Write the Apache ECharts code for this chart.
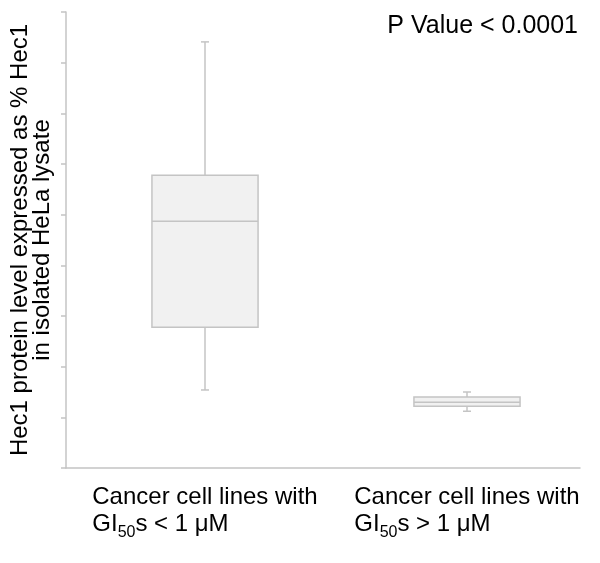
<!DOCTYPE html>
<html>
<head>
<meta charset="utf-8">
<script src="https://cdn.jsdelivr.net/npm/echarts@6/dist/echarts.min.js"></script>
<style>html,body{margin:0;padding:0;background:#fff}#c{width:600px;height:563px}</style>
</head>
<body>
<div id="c"></div>
<script>
const categories = ['Cancer cell lines with GI50s < 1 μM', 'Cancer cell lines with GI50s > 1 μM'];
const labelSign = ['<', '>'];
const whiskerLow = [15.4, 11.2];
const q1 = [27.8, 12.2];
const median = [48.7, 13.0];
const q3 = [57.8, 14.0];
const whiskerHigh = [84.1, 15.0];
const yTicks = [0, 10, 20, 30, 40, 50, 60, 70, 80, 90];

const boxData = categories.map((c, i) => [i, whiskerLow[i], q1[i], median[i], q3[i], whiskerHigh[i]]);

const FONT = '"Liberation Sans", Arial, sans-serif';
const GREY = '#c4c4c4';

const chart = echarts.init(document.getElementById('c'), null, {renderer: 'canvas'});
chart.setOption({
  animation: false,
  backgroundColor: '#ffffff',
  title: {
    text: 'P Value < 0.0001',
    right: 17, top: 9,
    textStyle: {fontFamily: FONT, fontSize: 25, fontWeight: 'normal', color: '#000'}
  },
  grid: [
    {left: 66, right: 20, top: 12, bottom: 95},
    {left: 74, right: 2, top: 12, bottom: 95}
  ],
  xAxis: [
    {gridIndex: 0, type: 'category', data: ['', ''], axisLine: {lineStyle: {color: GREY, width: 1.5}},
     axisTick: {show: false}, axisLabel: {show: false}},
    {gridIndex: 1, type: 'category', data: categories,
     axisLine: {show: false}, axisTick: {show: false},
     axisLabel: {
       interval: 0, hideOverlap: false,
       margin: 14,
       fontFamily: FONT, fontSize: 24, color: '#000', align: 'center', lineHeight: 27,
       formatter: function (v, i) {
         return '{a|Cancer cell lines with}\n{a|GI}{s|50}{a|s ' + labelSign[i] + ' 1 μM}';
       },
       rich: {
         a: {fontFamily: FONT, fontSize: 24, color: '#000', align: 'left', lineHeight: 27, verticalAlign: 'bottom'},
         s: {fontFamily: FONT, fontSize: 16, color: '#000', align: 'left', lineHeight: 27, verticalAlign: 'bottom', padding: [0, 0, -5, 0]}
       }
     }}
  ],
  yAxis: [
    {gridIndex: 0, type: 'value', min: yTicks[0], max: yTicks[yTicks.length - 1], interval: 10,
     axisLine: {show: true, lineStyle: {color: GREY, width: 1.5}},
     axisTick: {show: true, length: 5, lineStyle: {color: GREY, width: 1.5}},
     axisLabel: {show: false}, splitLine: {show: false},
     name: 'Hec1 protein level expressed as % Hec1\nin isolated HeLa lysate',
     nameLocation: 'middle', nameGap: 13, nameRotate: 90,
     nameTextStyle: {fontFamily: FONT, fontSize: 24, color: '#000', lineHeight: 22, align: 'center'}},
    {gridIndex: 1, type: 'value', min: yTicks[0], max: yTicks[yTicks.length - 1], interval: 10, show: false}
  ],
  series: [{
    type: 'custom',
    xAxisIndex: 1, yAxisIndex: 1,
    data: boxData,
    encode: {x: 0, y: [1, 2, 3, 4, 5]},
    renderItem: function (params, api) {
      const c = api.value(0);
      const pLow = api.coord([c, api.value(1)]);
      const pQ1 = api.coord([c, api.value(2)]);
      const pMed = api.coord([c, api.value(3)]);
      const pQ3 = api.coord([c, api.value(4)]);
      const pHigh = api.coord([c, api.value(5)]);
      const bw = api.size([1, 0])[0] * 0.405;
      const cap = 4;
      const x = pMed[0];
      const ls = {stroke: GREY, lineWidth: 1.5};
      return {
        type: 'group',
        children: [
          {type: 'line', shape: {x1: x, y1: pHigh[1], x2: x, y2: pQ3[1]}, style: ls},
          {type: 'line', shape: {x1: x, y1: pQ1[1], x2: x, y2: pLow[1]}, style: ls},
          {type: 'line', shape: {x1: x - cap, y1: pHigh[1], x2: x + cap, y2: pHigh[1]}, style: ls},
          {type: 'line', shape: {x1: x - cap, y1: pLow[1], x2: x + cap, y2: pLow[1]}, style: ls},
          {type: 'rect', shape: {x: x - bw / 2, y: pQ3[1], width: bw, height: pQ1[1] - pQ3[1]},
           style: {fill: '#f1f1f1', stroke: GREY, lineWidth: 1.5}},
          {type: 'line', shape: {x1: x - bw / 2, y1: pMed[1], x2: x + bw / 2, y2: pMed[1]}, style: ls}
        ]
      };
    }
  }]
});
</script>
</body>
</html>
